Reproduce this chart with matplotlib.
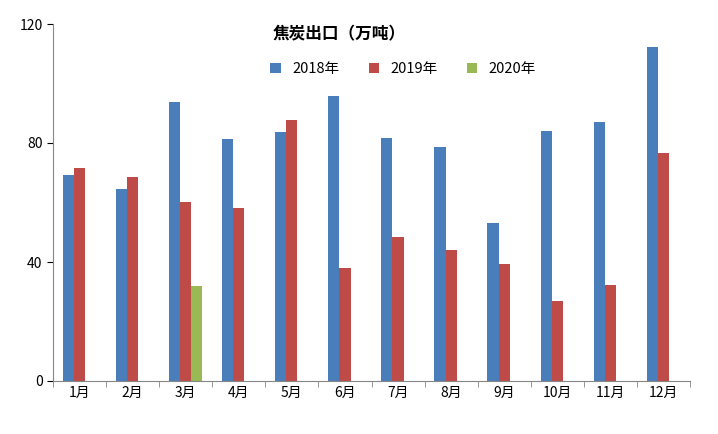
import matplotlib.pyplot as plt
import numpy as np

plt.rcParams["font.family"] = ["Noto Sans CJK SC", "DejaVu Sans"]

months = ["1月", "2月", "3月", "4月", "5月", "6月", "7月", "8月", "9月", "10月", "11月", "12月"]
y2018 = [69.2, 64.5, 93.8, 81.3, 83.7, 95.8, 81.7, 78.7, 53.1, 84.0, 87.0, 112.3]
y2019 = [71.6, 68.6, 60.2, 58.2, 87.7, 38.0, 48.4, 44.0, 39.3, 26.9, 32.3, 76.6]
y2020 = [None, None, 31.9, None, None, None, None, None, None, None, None, None]

fig = plt.figure(figsize=(7.18, 4.34), dpi=100)
ax = fig.add_axes([53 / 718, 1 - 381 / 434, 637 / 718, 357 / 434])

x = np.arange(len(months))
w = 0.21
ax.bar(x - w, y2018, w, color="#4a7ebb", label="2018年")
ax.bar(x, y2019, w, color="#be4b48", label="2019年")
idx = [i for i, v in enumerate(y2020) if v is not None]
ax.bar(x[idx] + w, [y2020[i] for i in idx], w, color="#98b954", label="2020年")

ax.set_ylim(0, 120)
ax.set_xlim(-0.5, len(months) - 0.5)
ax.set_yticks([0, 40, 80, 120])
ax.set_xticks(x)
ax.set_xticklabels(months, fontsize=10)
ax.tick_params(axis="y", labelsize=10, length=4)
ax.tick_params(axis="x", length=0)
ax.set_xticks(np.arange(-0.5, len(months)), minor=True)
ax.tick_params(axis="x", which="minor", length=4, color="#868686")
for s in ["top", "right"]:
    ax.spines[s].set_visible(False)
for s in ["left", "bottom"]:
    ax.spines[s].set_color("#868686")

ax.text(0.45, 0.97, "焦炭出口（万吨）", transform=ax.transAxes, ha="center",
        va="center", fontsize=12, fontweight="bold")
ax.legend(loc="upper center", bbox_to_anchor=(0.55, 0.93), ncol=3, frameon=False,
          fontsize=10.5, handlelength=0.7, handleheight=0.7, columnspacing=2.0)

fig.savefig("out.png", dpi=100)
